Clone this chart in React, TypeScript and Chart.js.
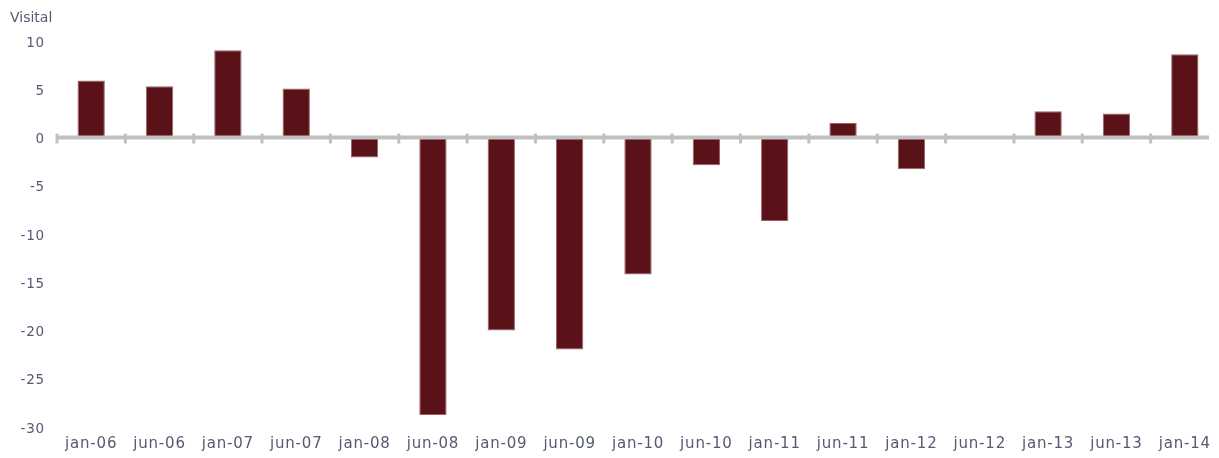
import React, { useEffect, useRef } from "react";
import { Chart, registerables } from "chart.js";

Chart.register(...registerables);

const categories = [
  "jan-06", "jun-06", "jan-07", "jun-07", "jan-08", "jun-08", "jan-09", "jun-09",
  "jan-10", "jun-10", "jan-11", "jun-11", "jan-12", "jun-12", "jan-13", "jun-13", "jan-14",
];
const values = [5.9, 5.3, 9.05, 5.08, -2.07, -28.75, -20.0, -21.97, -14.2, -2.87, -8.64, 1.5, -3.28, 0, 2.73, 2.49, 8.63];
const yTicks = [10, 5, 0, -5, -10, -15, -20, -25, -30];
const axisTitle = "Visital";

const FONT = "'DejaVu Sans', Verdana, sans-serif";
const TEXT = "#555a70";

const spacing = {
  id: "spacing",
  beforeDraw(chart: any) {
    chart.ctx.letterSpacing = "0.8px";
  },
};

const zeroLine = {
  id: "zeroLine",
  afterDatasetsDraw(chart: any) {
    const { ctx, chartArea, scales } = chart;
    const y = scales.y.getPixelForValue(0);
    const xs = scales.x;
    const n = categories.length;
    const cw = (chartArea.right - chartArea.left) / n;
    ctx.save();
    ctx.strokeStyle = "#c0c0c0";
    ctx.lineWidth = 4;
    ctx.beginPath();
    ctx.moveTo(chartArea.left, y);
    ctx.lineTo(chartArea.right - 10, y);
    ctx.stroke();
    ctx.lineWidth = 3;
    for (let i = 0; i < n; i++) {
      const x = xs.getPixelForValue(i) - cw / 2;
      ctx.beginPath();
      ctx.moveTo(x, y - 4);
      ctx.lineTo(x, y + 6);
      ctx.stroke();
    }
    ctx.letterSpacing = "0px";
    ctx.fillStyle = TEXT;
    ctx.font = `14px ${FONT}`;
    ctx.textAlign = "left";
    ctx.textBaseline = "middle";
    ctx.fillText(axisTitle, 10, 18);
    ctx.restore();
  },
};

export default function App() {
  const ref = useRef<HTMLCanvasElement>(null);
  useEffect(() => {
    document.body.style.margin = "0";
    const chart = new Chart(ref.current!, {
      type: "bar",
      data: {
        labels: categories,
        datasets: [
          {
            data: values,
            backgroundColor: "#5a1218",
            borderColor: "#9a6468",
            borderWidth: 1,
            barPercentage: 0.4,
            categoryPercentage: 1,
          },
        ],
      },
      options: {
        animation: false,
        responsive: true,
        maintainAspectRatio: false,
        layout: { padding: { top: 41, right: 0, left: 0, bottom: 0 } },
        plugins: { legend: { display: false }, tooltip: { enabled: false } },
        scales: {
          x: {
            grid: { display: false, drawTicks: false },
            border: { display: false },
            ticks: { color: TEXT, font: { family: FONT, size: 15 }, padding: 8, maxRotation: 0, autoSkip: false },
            afterFit: (s: any) => { s.height = 31; },
          },
          y: {
            min: -30,
            max: 10,
            grid: { display: false, drawTicks: false },
            border: { display: false },
            afterBuildTicks: (s: any) => { s.ticks = yTicks.map((v) => ({ value: v })); },
            ticks: { color: TEXT, font: { family: FONT, size: 13.5 }, padding: 12, labelOffset: 2 },
            afterFit: (s: any) => { s.width = 57; },
          },
        },
      },
      plugins: [spacing, zeroLine],
    });
    return () => chart.destroy();
  }, []);
  return (
    <div style={{ position: "absolute", left: 0, top: 0, width: 1219, height: 458 }}>
      <canvas ref={ref} />
    </div>
  );
}
